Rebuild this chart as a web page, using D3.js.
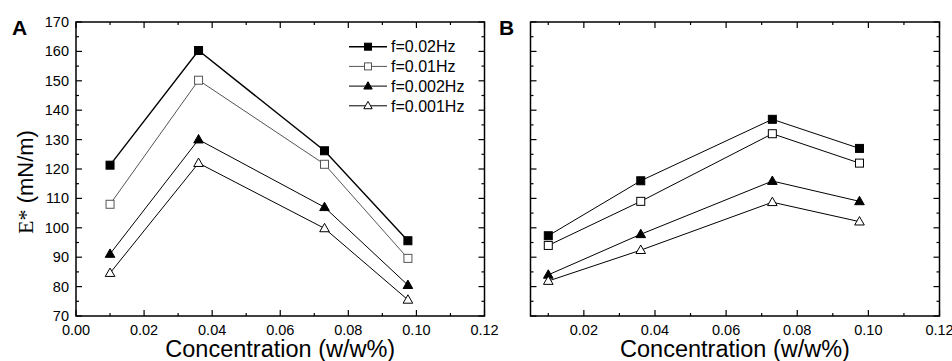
<!DOCTYPE html>
<html>
<head>
<meta charset="utf-8">
<script src="https://cdn.jsdelivr.net/npm/d3@7"></script>
<style>
  html, body { margin: 0; padding: 0; background: #fff; }
  svg { display: block; }
  text { font-family: "Liberation Sans", Arial, sans-serif; fill: #000; }
</style>
</head>
<body>
<svg id="chart" width="952" height="361"></svg>
<script>
// ---------- data ----------
const seriesNames = ["f=0.02Hz", "f=0.01Hz", "f=0.002Hz", "f=0.001Hz"];
const concentrations = [0.010, 0.036, 0.073, 0.0975];

// Panel A
const panelA_f002  = [121.3, 160.3, 126.2, 95.6];
const panelA_f001  = [108.0, 150.2, 121.6, 89.6];
const panelA_f0002 = [91.1, 130.0, 107.0, 80.5];
const panelA_f0001 = [84.6, 122.0, 99.8, 75.5];

// Panel B
const panelB_f002  = [97.3, 116.0, 136.9, 127.0];
const panelB_f001  = [94.0, 109.0, 132.0, 122.0];
const panelB_f0002 = [84.0, 97.8, 115.9, 109.0];
const panelB_f0001 = [81.9, 92.4, 108.7, 102.1];

const xTicksA = [0.00, 0.02, 0.04, 0.06, 0.08, 0.10, 0.12];
const xTicksB = [0.02, 0.04, 0.06, 0.08, 0.10, 0.12];
const yTicks = [70, 80, 90, 100, 110, 120, 130, 140, 150, 160, 170];

// ---------- styles ----------
const markerTypes = ["squareFilled", "squareOpen", "triFilled", "triOpen"];
const lineColorsA = ["#000", "#555", "#000", "#000"];
const lineWidthsA = [1.4, 1, 1, 1];
const lineColorsB = ["#000", "#000", "#000", "#000"];
const lineWidthsB = [1, 1, 1, 1];

const svg = d3.select("#chart");
const plotTop = 22, plotBottom = 316;
const y = d3.scaleLinear().domain([70, 170]).range([plotBottom, plotTop]);

function drawMarker(g, type, cx, cy, color, size) {
  const s = size;
  if (type.startsWith("square")) {
    g.append("rect")
      .attr("x", cx - s / 2).attr("y", cy - s / 2)
      .attr("width", s).attr("height", s)
      .attr("fill", type === "squareFilled" ? "#000" : "#fff")
      .attr("stroke", color).attr("stroke-width", 1);
  } else {
    const w = s * 1.2, h = s * 1.05;
    const pts = [[cx, cy - h * 0.6], [cx - w / 2, cy + h * 0.4], [cx + w / 2, cy + h * 0.4]];
    g.append("path")
      .attr("d", "M" + pts.map(p => p.join(",")).join("L") + "Z")
      .attr("fill", type === "triFilled" ? "#000" : "#fff")
      .attr("stroke", color).attr("stroke-width", 1)
      .attr("stroke-linejoin", "miter");
  }
}

function drawPanel(opts) {
  const { x, xTicks, showYLabels, series, colors, widths, label, labelX } = opts;
  const [x0, x1] = x.range();
  const g = svg.append("g");

  // series lines
  const line = d3.line().x((d, i) => x(concentrations[i])).y(d => y(d));
  series.forEach((vals, si) => {
    g.append("path").datum(vals)
      .attr("d", line)
      .attr("fill", "none")
      .attr("stroke", colors[si])
      .attr("stroke-width", widths[si]);
  });
  series.forEach((vals, si) => {
    vals.forEach((v, i) => {
      drawMarker(g, markerTypes[si], x(concentrations[i]), y(v), colors[si], 8);
    });
  });

  // frame
  g.append("rect")
    .attr("x", x0).attr("y", plotTop)
    .attr("width", x1 - x0).attr("height", plotBottom - plotTop)
    .attr("fill", "none").attr("stroke", "#000").attr("stroke-width", 1.5);

  // x ticks (inward, bottom and top)
  const xMinor = d3.range(0.01, 0.12, 0.02).filter(v => v >= x.domain()[0]);
  const tickG = g.append("g").attr("stroke", "#000").attr("stroke-width", 1.2);
  xTicks.forEach(v => {
    tickG.append("line").attr("x1", x(v)).attr("x2", x(v)).attr("y1", plotBottom).attr("y2", plotBottom - 6);
    tickG.append("line").attr("x1", x(v)).attr("x2", x(v)).attr("y1", plotTop).attr("y2", plotTop + 6);
  });
  xMinor.forEach(v => {
    tickG.append("line").attr("x1", x(v)).attr("x2", x(v)).attr("y1", plotBottom).attr("y2", plotBottom - 3);
    tickG.append("line").attr("x1", x(v)).attr("x2", x(v)).attr("y1", plotTop).attr("y2", plotTop + 3);
  });
  // y ticks (inward, left and right)
  const yMinor = d3.range(75, 170, 10);
  yTicks.forEach(v => {
    tickG.append("line").attr("x1", x0).attr("x2", x0 + 6).attr("y1", y(v)).attr("y2", y(v));
    tickG.append("line").attr("x1", x1).attr("x2", x1 - 6).attr("y1", y(v)).attr("y2", y(v));
  });
  yMinor.forEach(v => {
    tickG.append("line").attr("x1", x0).attr("x2", x0 + 3).attr("y1", y(v)).attr("y2", y(v));
    tickG.append("line").attr("x1", x1).attr("x2", x1 - 3).attr("y1", y(v)).attr("y2", y(v));
  });

  // x tick labels
  const fmt = d3.format(".2f");
  xTicks.forEach(v => {
    g.append("text").attr("x", x(v)).attr("y", 334.5)
      .attr("text-anchor", "middle").style("font-size", "14.5px").text(fmt(v));
  });
  if (showYLabels) {
    yTicks.forEach(v => {
      g.append("text").attr("x", 69).attr("y", y(v) + 5)
        .attr("text-anchor", "end").style("font-size", "14.5px").text(v);
    });
  }

  // x title
  g.append("text").attr("x", (x0 + x1) / 2).attr("y", 357)
    .attr("text-anchor", "middle").style("font-size", "23.5px")
    .text("Concentration (w/w%)");

  // panel label
  g.append("text").attr("x", labelX).attr("y", 34.5)
    .style("font-size", "21px").style("font-weight", "bold").text(label);
  return g;
}

const xA = d3.scaleLinear().domain([0, 0.12]).range([76, 484.5]);
const xB = d3.scaleLinear().domain([0.005, 0.12]).range([530.5, 939.5]);

drawPanel({
  x: xA, xTicks: xTicksA, showYLabels: true,
  series: [panelA_f002, panelA_f001, panelA_f0002, panelA_f0001],
  colors: lineColorsA, widths: lineWidthsA, label: "A", labelX: 12
});
drawPanel({
  x: xB, xTicks: xTicksB, showYLabels: false,
  series: [panelB_f002, panelB_f001, panelB_f0002, panelB_f0001],
  colors: lineColorsB, widths: lineWidthsB, label: "B", labelX: 499
});

// y title
const yt = svg.append("text")
  .attr("transform", "translate(33,182) rotate(-90)")
  .attr("text-anchor", "middle").style("font-size", "22px");
yt.append("tspan").style("font-family", "'Liberation Serif', 'Times New Roman', serif").text("E*");
yt.append("tspan").text(" (mN/m)");

// legend
const leg = svg.append("g");
seriesNames.forEach((name, i) => {
  const cy = 46.7 + i * 19.7;
  leg.append("line").attr("x1", 349).attr("x2", 387).attr("y1", cy).attr("y2", cy)
    .attr("stroke", lineColorsA[i]).attr("stroke-width", lineWidthsA[i]);
  drawMarker(leg, markerTypes[i], 368, cy, lineColorsA[i], 7);
  leg.append("text").attr("x", 391).attr("y", cy + 5.7)
    .style("font-size", "16px").text(name);
});
</script>
</body>
</html>
